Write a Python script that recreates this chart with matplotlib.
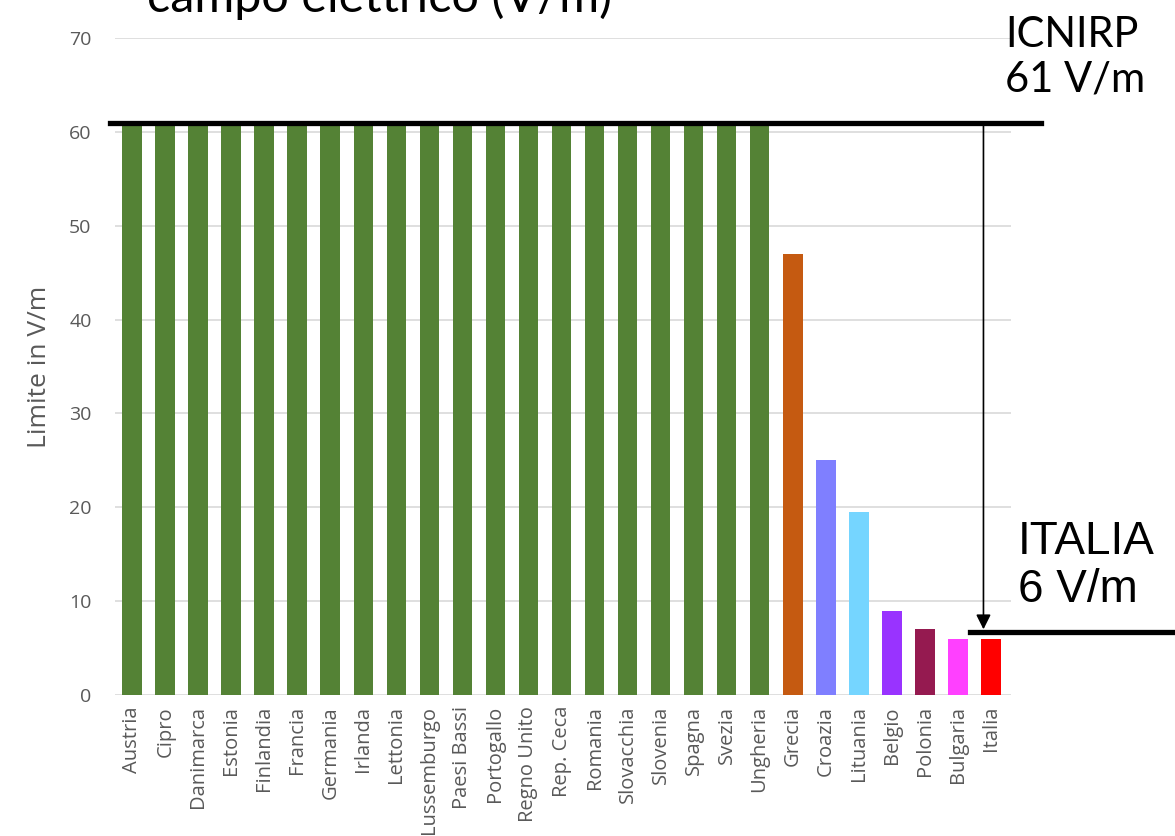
import numpy as np
import matplotlib.pyplot as plt

# limiti di campo elettrico per paese (V/m)
paesi = ["Austria", "Cipro", "Danimarca", "Estonia", "Finlandia", "Francia",
         "Germania", "Irlanda", "Lettonia", "Lussemburgo", "Paesi Bassi",
         "Portogallo", "Regno Unito", "Rep. Ceca", "Romania", "Slovacchia",
         "Slovenia", "Spagna", "Svezia", "Ungheria", "Grecia", "Croazia",
         "Lituania", "Belgio", "Polonia", "Bulgaria", "Italia"]
limiti = [61] * 20 + [47, 25, 19.5, 9, 7, 6, 6]
colori = ["#548235"] * 20 + ["#C55A11", "#7F7FFF", "#75D5FF", "#9933FF",
                             "#951A50", "#FF40FF", "#FF0000"]
icnirp = 61
italia = 6

fig = plt.figure(figsize=(11.75, 8.36), dpi=100)
ax = fig.add_axes([0.098, 0.1687, 0.762, 0.7858])

x = np.arange(len(paesi))
ax.bar(x, limiti, width=0.6, color=colori, zorder=2)

ax.set_ylim(0, 70)
ax.set_xlim(-0.52, len(paesi) - 0.4)
ax.set_yticks(range(0, 71, 10))
ax.yaxis.grid(True, color="#d9d9d9", linewidth=1.2, zorder=0)
for s in ax.spines.values():
    s.set_visible(False)
ax.tick_params(length=0, colors="#595959")
ax.tick_params(axis="y", pad=17, labelsize=14)
ax.tick_params(axis="x", pad=8)
ax.set_xticks(x)
ax.set_xticklabels(paesi, rotation=90, fontfamily="Open Sans", fontsize=14.5)
for t in ax.get_yticklabels():
    t.set_fontfamily("Open Sans")
ax.set_ylabel("Limite in V/m", fontsize=19, color="#595959",
              fontfamily="Open Sans", labelpad=12)

# linee di riferimento
tr = ax.get_yaxis_transform()
ax.plot([-0.006, 1.034], [icnirp, icnirp], color="black", lw=3.8,
        transform=tr, clip_on=False, zorder=5)
ax.plot([0.955, 1.19], [italia + 0.7, italia + 0.7], color="black", lw=3.8,
        transform=tr, clip_on=False, zorder=5)
ax.annotate("", xy=(0.9698, italia + 0.7), xytext=(0.9698, icnirp),
            xycoords=tr, textcoords=tr,
            arrowprops=dict(arrowstyle="-|>", color="black", lw=1.2,
                            mutation_scale=22), annotation_clip=False, zorder=6)

fig.text(1005 / 1175, 1 - 57 / 836, "ICNIRP\n61 V/m", fontsize=30,
         fontfamily="Lato", ha="left", va="center", linespacing=1.2)
fig.text(1018 / 1175, 1 - 566 / 836, "ITALIA\n6 V/m", fontsize=33,
         fontfamily="Liberation Sans", ha="left", va="center", linespacing=1.1)
fig.text(147 / 1175, 1 - 12 / 836, "campo elettrico (V/m)", fontsize=35,
         fontfamily="Lato", ha="left", va="baseline")

fig.savefig("out.png", dpi=100)
